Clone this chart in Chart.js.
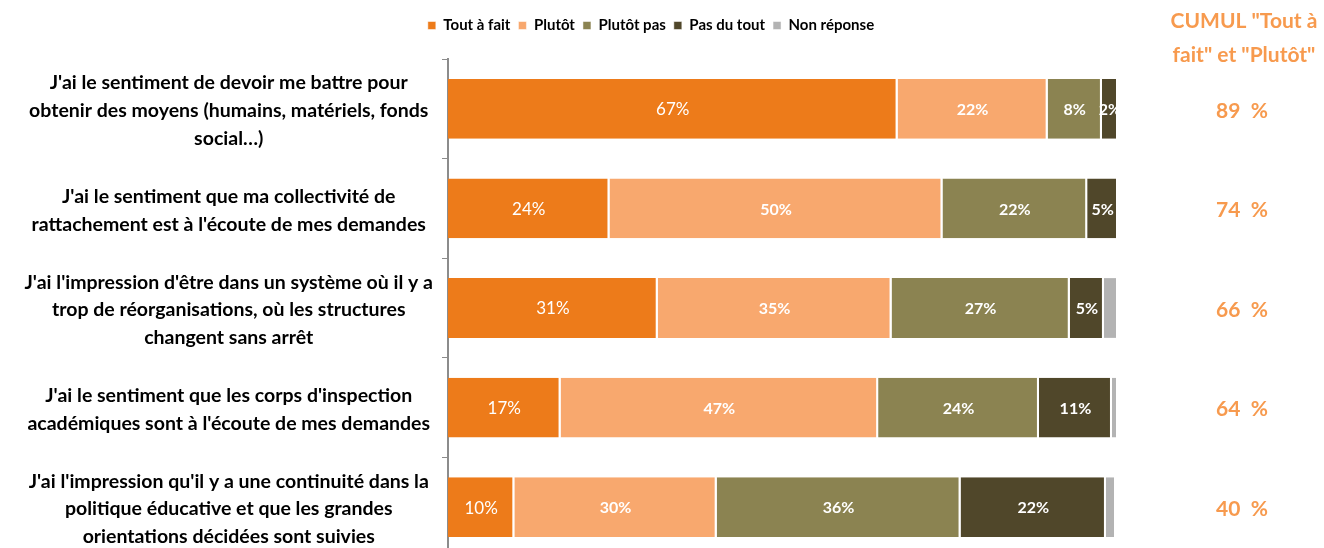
<!DOCTYPE html>
<html>
<head>
<meta charset="utf-8">
<script src="https://cdn.jsdelivr.net/npm/chart.js@4"></script>
<style>
    body { margin: 0; overflow: hidden; background: #fff; }
    #wrap { width: 1324px; height: 560px; }
</style>
</head>
<body>
<div id="wrap"><canvas id="chartCanvas"></canvas></div>
<script>
// données
const categories = [
    ["J'ai le sentiment de devoir me battre pour", "obtenir des moyens (humains, matériels, fonds", "social…)"],
    ["J'ai le sentiment que ma collectivité de", "rattachement est à l'écoute de mes demandes"],
    ["J'ai l'impression d'être dans un système où il y a", "trop de réorganisations, où les structures", "changent sans arrêt"],
    ["J'ai le sentiment que les corps d'inspection", "académiques sont à l'écoute de mes demandes"],
    ["J'ai l'impression qu'il y a une continuité dans la", "politique éducative et que les grandes", "orientations décidées sont suivies"]
];
const toutAFait = [67.1, 24.1, 31.3, 16.8, 9.9];
const plutot = [22.4, 49.7, 34.9, 47.4, 30.2];
const plutotPas = [8.1, 21.6, 26.6, 24.0, 36.4];
const pasDuTout = [2.4, 4.6, 5.1, 10.9, 21.7];
const nonReponse = [0, 0, 2.1, 0.9, 1.5];
const cumul = [89, 74, 66, 64, 40];
const cumulTitle = ['CUMUL "Tout à', 'fait" et "Plutôt"'];

const orangeClair = '#F79A4E';

//labels dans les barres + colonne cumul
const textPlugin = {
    id: 'textPlugin',
    afterLayout(chart) {
        // legende centree un peu plus a droite, comme l'original
        chart.legend.left += 92;
        chart.legend.right += 92;
    },
    afterDatasetsDraw(chart) {
        const ctx = chart.ctx;
        ctx.save();
        ctx.textAlign = 'center';
        ctx.textBaseline = 'middle';
        chart.data.datasets.forEach(function (ds, i) {
            if (i === 4) return;
            const meta = chart.getDatasetMeta(i);
            meta.data.forEach(function (bar, j) {
                const v = ds.data[j];
                if (!v) return;
                const x = (bar.base + bar.x) / 2;
                ctx.fillStyle = '#fff';
                ctx.font = (i === 0 ? '17px' : 'bold 16px') + ' Lato';
                ctx.fillText(Math.round(v) + '%', x, bar.y + 1);
            });
        });

        const yScale = chart.scales.y;
        const cx = 1244;
        ctx.fillStyle = orangeClair;
        ctx.font = 'bold 21px Lato';
        ctx.fillText(cumulTitle[0], cx, 21);
        ctx.fillText(cumulTitle[1], cx, 55);
        cumul.forEach(function (c, j) {
            ctx.fillText(c + '  %', 1242, yScale.getPixelForValue(j) + 2);
        });
        ctx.restore();
    }
};

const barBorder = { top: 0, bottom: 0, left: 0, right: 2 };

const chart = new Chart(document.getElementById('chartCanvas'), {
    type: 'bar',
    data: {
        labels: categories,
        datasets: [
            { label: 'Tout à fait', data: toutAFait, backgroundColor: '#ED7B1A' },
            { label: 'Plutôt', data: plutot, backgroundColor: '#F8A86E' },
            { label: 'Plutôt pas', data: plutotPas, backgroundColor: '#8B8351' },
            { label: 'Pas du tout', data: pasDuTout, backgroundColor: '#50472A' },
            { label: 'Non réponse', data: nonReponse, backgroundColor: '#B3B3B3' }
        ].map(function (d) {
            d.borderColor = '#fff';
            d.borderWidth = barBorder;
            d.borderSkipped = false;
            d.barPercentage = 0.6;
            d.categoryPercentage = 1;
            return d;
        })
    },
    options: {
        indexAxis: 'y',
        responsive: true,
        maintainAspectRatio: false,
        animation: false,
        layout: { padding: { left: 0, right: 206, top: 10, bottom: 3 } },
        scales: {
            x: {
                stacked: true,
                min: 0,
                max: 100,
                position: 'top',
                ticks: { display: false },
                grid: { display: false },
                border: { display: false },
                afterFit: function (scale) { scale.height = 16; }
            },
            y: {
                stacked: true,
                afterFit: function (scale) {
                    scale.width = 448;
                    scale.paddingTop = 0;
                    scale.paddingBottom = 0;
                },
                ticks: {
                    crossAlign: 'center',
                    color: '#000',
                    padding: 9,
                    labelOffset: 2,
                    font: { family: 'Lato', size: 19.5, weight: 'bold', lineHeight: 1.42 }
                },
                grid: {
                    offset: true,
                    drawOnChartArea: false,
                    tickLength: 6,
                    color: '#8C8C8C'
                },
                border: { display: true, color: '#8C8C8C', width: 2 }
            }
        },
        plugins: {
            legend: {
                position: 'top',
                labels: {
                    boxWidth: 8,
                    boxHeight: 8,
                    padding: 8,
                    color: '#000',
                    font: { family: 'Lato', size: 15, weight: 'bold' }
                }
            },
            tooltip: { enabled: false }
        }
    },
    plugins: [textPlugin]
});
</script>
</body>
</html>
